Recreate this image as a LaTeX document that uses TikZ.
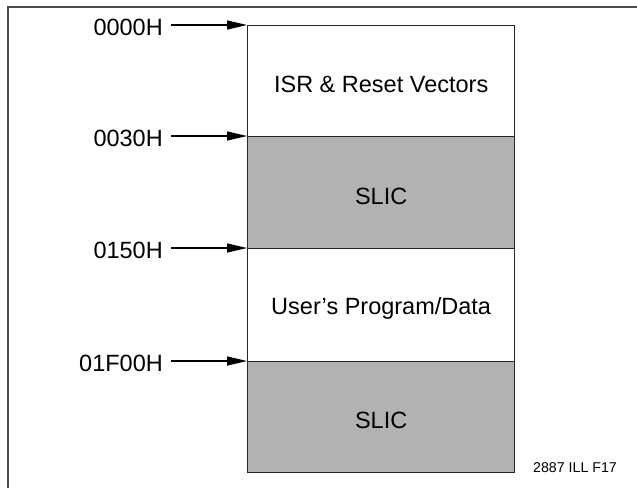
\documentclass[tikz,border=0pt]{standalone}
\usepackage{fontspec}
\setmainfont{Liberation Sans}
\usetikzlibrary{arrows.meta}
\begin{document}
\begin{tikzpicture}[x=1pt,y=-1pt,
  blk/.style={draw=black!85, line width=1.3pt, minimum width=267pt, inner sep=0pt, anchor=north west},
  white/.style={blk, fill=white},
  grey/.style={blk, fill=black!30},
  big/.style={font=\fontsize{23.5}{28}\selectfont, inner sep=0pt},
  addr/.style={big, anchor=base east},
  arr/.style={line width=1.2pt, -{Triangle[length=20pt,width=9pt]}}]
\useasboundingbox (0,0) rectangle (637,488);
% outer frame (only top and left edges visible)
\draw[line width=1.8pt, black!70] (637,7) -- (8,7) -- (8,488);
% memory blocks
\node[white, minimum height=111pt] (b1) at (247,25) {};
\node[grey,  minimum height=112pt] (b2) at (247,136) {};
\node[white, minimum height=113pt] (b3) at (247,248) {};
\node[grey,  minimum height=111pt] (b4) at (247,361) {};
% block texts
\node[big] (t1) at ([yshift=-3.5pt]b1.center) {ISR \& Reset Vectors};
\node[big] (t2) at ([yshift=-3.5pt]b2.center) {SLIC};
\node[big] (t3) at ([yshift=-3.5pt]b3.center) {User’s Program/Data};
\node[big] (t4) at ([yshift=-3.5pt]b4.center) {SLIC};
% address labels
\node[addr] (a1) at (163,35) {0000H};
\node[addr] (a2) at (163,146) {0030H};
\node[addr] (a3) at (163,258) {0150H};
\node[addr] (a4) at (163,371) {01F00H};
\coordinate (s1) at ([xshift=8pt]a1.base east);
\coordinate (s2) at ([xshift=8pt]a2.base east);
\coordinate (s3) at ([xshift=8pt]a3.base east);
\coordinate (s4) at ([xshift=8pt]a4.base east);
\draw[arr] (s1 |- b1.north west) -- (b1.north west);
\draw[arr] (s2 |- b2.north west) -- (b2.north west);
\draw[arr] (s3 |- b3.north west) -- (b3.north west);
\draw[arr] (s4 |- b4.north west) -- (b4.north west);
% figure id
\node[font=\fontsize{14.2}{17}\selectfont, inner sep=0pt, anchor=base west] (id) at (533,472) {2887 ILL F17};
\end{tikzpicture}
\end{document}
